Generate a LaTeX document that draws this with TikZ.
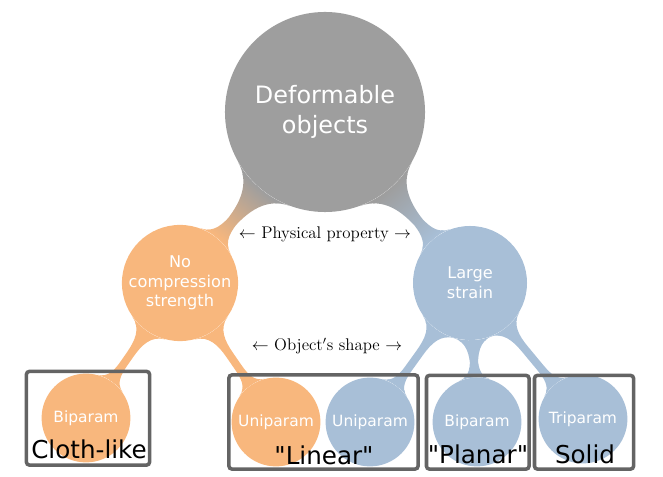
\documentclass[tikz,border=0pt]{standalone}
\usepackage{fontspec}
\newfontfamily\dejavu{DejaVu Sans}
\usetikzlibrary{mindmap,backgrounds}
\definecolor{cgray}{RGB}{158,158,158}
\definecolor{corange}{RGB}{248,183,125}
\definecolor{cblue}{RGB}{168,191,215}
\definecolor{cbox}{RGB}{100,100,100}
\tikzset{
  bubble/.style={circle, fill=#1, text=white, inner sep=0pt, align=center},
  rootc/.style={bubble=cgray, minimum size=5cm, font=\dejavu\fontsize{17}{21}\selectfont},
  midc/.style={bubble=#1, minimum size=2.85cm, font=\dejavu\fontsize{11.5}{14}\selectfont},
  leafc/.style={bubble=#1, minimum size=2.22cm, font=\dejavu\fontsize{11}{13}\selectfont},
  groupbox/.style={draw=cbox, line width=2.5pt, rounded corners=2pt, inner sep=0pt, minimum height=2.34cm},
  grouplabel/.style={text=black, font=\dejavu\fontsize{17.5}{20}\selectfont, anchor=base, inner sep=0pt},
  axislabel/.style={text=black, font=\fontsize{12}{14}\selectfont, inner sep=0pt}
}
\begin{document}
\begin{tikzpicture}[x=0.025cm, y=-0.025cm]
\useasboundingbox (0,0) rectangle (663,477);
% concepts
\node[rootc] (root) at (325,112) {Deformable\\objects};
\node[midc=corange] (nocomp) at (180,283) {No\\compression\\strength};
\node[midc=cblue] (large) at (470,283) {Large\\strain};
\node[leafc=corange] (cbi) at (86,418) {Biparam};
\node[leafc=corange] (ouni) at (276,422) {Uniparam};
\node[leafc=cblue] (buni) at (370,422) {Uniparam};
\node[leafc=cblue] (bbi) at (477,422) {Biparam};
\node[leafc=cblue] (btri) at (583,419) {Triparam};
% connection bars
\begin{pgfonlayer}{background}
\begin{scope}[mindmap]
\path (root) to[circle connection bar switch color=from (cgray) to (corange)] (nocomp);
\path (root) to[circle connection bar switch color=from (cgray) to (cblue)] (large);
\path (nocomp) to[circle connection bar switch color=from (corange) to (corange)] (cbi);
\path (nocomp) to[circle connection bar switch color=from (corange) to (corange)] (ouni);
\path (large) to[circle connection bar switch color=from (cblue) to (cblue)] (buni);
\path (large) to[circle connection bar switch color=from (cblue) to (cblue)] (bbi);
\path (large) to[circle connection bar switch color=from (cblue) to (cblue)] (btri);
\end{scope}
\end{pgfonlayer}
% axis labels
\node[axislabel] (phys) at (325,234) {$\leftarrow$ Physical property $\rightarrow$};
\node[axislabel] (shape) at (327,346) {$\leftarrow$ Object$'$s shape $\rightarrow$};
% group boxes
\node[groupbox, minimum width=3.075cm, minimum height=2.34cm] (gcloth) at (88,418.25) {};
\node[groupbox, minimum width=4.725cm, minimum height=2.35cm] (glin) at (323.5,422) {};
\node[groupbox, minimum width=2.5625cm] (gplan) at (477.75,422.25) {};
\node[groupbox, minimum width=2.475cm] (gsol) at (584,422.25) {};
% group labels
\node[grouplabel] (lcloth) at (89,458) {Cloth-like};
\node[grouplabel] (llin) at (324,464) {"Linear"};
\node[grouplabel] (lplan) at (478,463) {"Planar"};
\node[grouplabel] (lsol) at (585,463) {Solid};
\end{tikzpicture}
\end{document}
